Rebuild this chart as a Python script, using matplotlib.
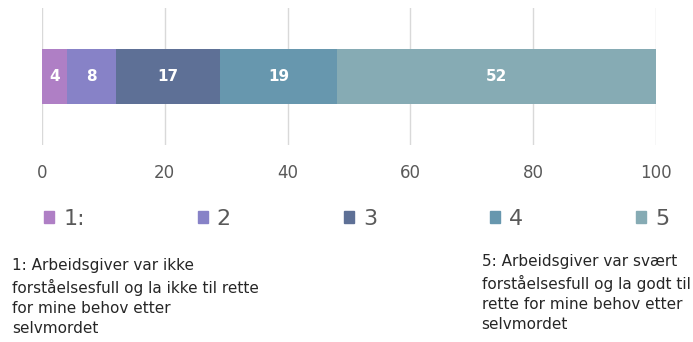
import matplotlib.pyplot as plt
from matplotlib.patches import Patch

categories = ["1:", "2", "3", "4", "5"]
values = [4, 8, 17, 19, 52]
colors = ["#AF7FC5", "#8782C7", "#5E7096", "#6797AE", "#86ABB4"]
ticks = [0, 20, 40, 60, 80, 100]

note_left = "1: Arbeidsgiver var ikke\nforståelsesfull og la ikke til rette\nfor mine behov etter\nselvmordet"
note_right = "5: Arbeidsgiver var svært\nforståelsesfull og la godt til\nrette for mine behov etter\nselvmordet"

fig = plt.figure(figsize=(6.93, 3.42), dpi=100)
ax = fig.add_axes([0.0606, 0.576, 0.886, 0.401])

left = 0
for cat, v, c in zip(categories, values, colors):
    ax.barh(0, v, left=left, height=0.4, color=c, zorder=3)
    ax.text(left + v / 2, 0, str(v), ha="center", va="center",
            color="white", fontsize=11, fontweight="bold", zorder=4)
    left += v

ax.set_xlim(0, 100)
ax.set_ylim(-0.5, 0.5)
ax.set_xticks(ticks)
ax.set_yticks([])
ax.grid(axis="x", color="#d9d9d9", linewidth=1, zorder=0)
ax.tick_params(axis="x", length=0, pad=14, labelsize=12, labelcolor="#595959")
for s in ax.spines.values():
    s.set_visible(False)

handles = [Patch(color=c, label=cat) for cat, c in zip(categories, colors)]
fig.legend(handles=handles, loc="center", bbox_to_anchor=(0.035, 0.32, 0.96, 0.08),
           mode="expand", ncol=5, frameon=False, fontsize=16, handlelength=0.45,
           handleheight=0.45, handletextpad=0.4, labelcolor="#595959")

fig.text(0.017, 0.245, note_left, ha="left", va="top", fontsize=11,
         linespacing=1.42, color="#262626")
fig.text(0.695, 0.258, note_right, ha="left", va="top", fontsize=11,
         linespacing=1.42, color="#262626")

fig.savefig("out.png", dpi=100)
